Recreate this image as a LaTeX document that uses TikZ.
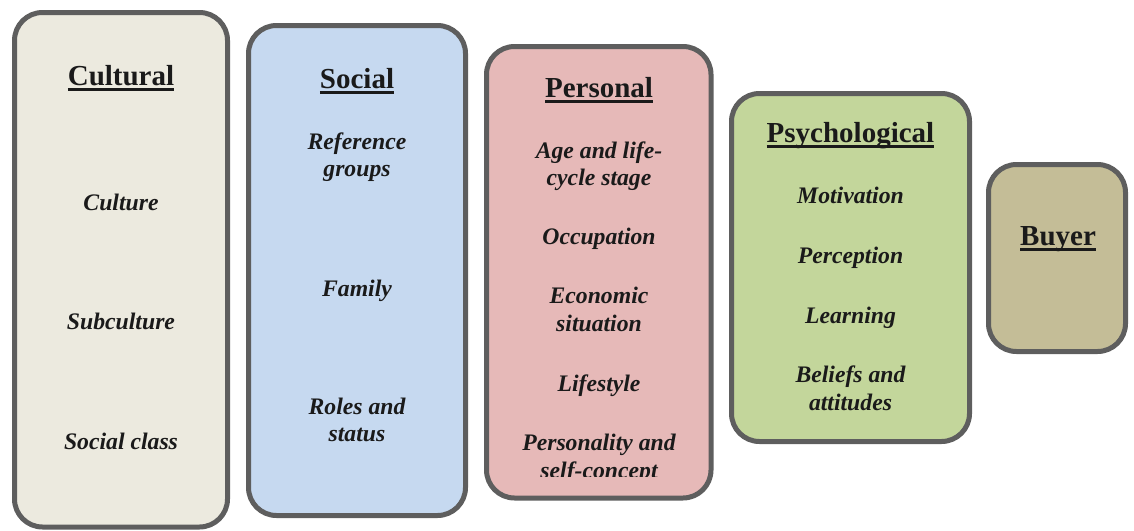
\documentclass[tikz,border=0pt]{standalone}
\usepackage{fontspec}
\setmainfont{Liberation Serif}
\newcommand\myul[1]{\setbox0=\hbox{#1}\rlap{\rule[-5.7pt]{\wd0}{2.7pt}}\box0}
\definecolor{bordergray}{HTML}{5E5E5E}
\definecolor{txt}{HTML}{1A1A1A}
\definecolor{cultfill}{HTML}{ECEADF}
\definecolor{socfill}{HTML}{C6D9F0}
\definecolor{persfill}{HTML}{E6B9B8}
\definecolor{psyfill}{HTML}{C3D69B}
\definecolor{buyfill}{HTML}{C4BD97}
\tikzset{
  panel/.style={draw=bordergray, line width=5pt, rounded corners=28pt, inner sep=0pt, rectangle},
  titletext/.style={anchor=base, inner sep=0pt, text=txt, font=\fontsize{29}{34}\selectfont\bfseries},
  itemtext/.style={anchor=base, inner sep=0pt, text=txt, font=\fontsize{23.7}{28}\selectfont\bfseries\itshape},
}
\begin{document}
\begin{tikzpicture}[x=1pt,y=-1pt]
\useasboundingbox (0,0) rectangle (1134,530);
% panels
\node[panel, fill=cultfill, minimum width=213pt, minimum height=514.5pt] (cultural) at (121,269.75) {};
\node[panel, fill=socfill, minimum width=217pt, minimum height=490pt] (social) at (357,270.5) {};
\node[panel, fill=persfill, minimum width=224.5pt, minimum height=451.5pt] (personal) at (598.75,272.25) {};
\node[panel, fill=psyfill, minimum width=238pt, minimum height=348pt] (psych) at (850.5,267.5) {};
\node[panel, fill=buyfill, minimum width=137pt, minimum height=187pt] (buyer) at (1057,258) {};
% Cultural
\node[titletext] (tcult) at (121,85) {\myul{Cultural}};
\node[itemtext] (culture) at (121,210) {Culture};
\node[itemtext] (subculture) at (121,329) {Subculture};
\node[itemtext] (socclass) at (121,449) {Social class};
% Social
\node[titletext] (tsoc) at (357,88) {\myul{Social}};
\node[itemtext] (ref1) at (357,149) {Reference};
\node[itemtext] (ref2) at (357,176) {groups};
\node[itemtext] (family) at (357,296) {Family};
\node[itemtext] (roles1) at (357,414) {Roles and};
\node[itemtext] (roles2) at (357,441) {status};
% Personal
\node[titletext] (tpers) at (599,97) {\myul{Personal}};
\node[itemtext] (age1) at (599,158) {Age and life-};
\node[itemtext] (age2) at (599,185) {cycle stage};
\node[itemtext] (occ) at (599,244) {Occupation};
\node[itemtext] (eco1) at (599,303) {Economic};
\node[itemtext] (eco2) at (599,331) {situation};
\node[itemtext] (life) at (599,391) {Lifestyle};
\node[itemtext] (pers1) at (599,450) {Personality and};
\begin{scope}
\clip (488,0) rectangle (709,476);
\node[itemtext] (pers2) at (599,478) {self-concept};
\end{scope}
% Psychological
\node[titletext] (tpsy) at (850.5,142) {\myul{Psychological}};
\node[itemtext] (mot) at (850.5,203) {Motivation};
\node[itemtext] (perc) at (850.5,263) {Perception};
\node[itemtext] (learn) at (850.5,323) {Learning};
\node[itemtext] (bel1) at (850.5,382) {Beliefs and};
\node[itemtext] (bel2) at (850.5,410) {attitudes};
% Buyer
\node[titletext] (tbuy) at (1058,245) {\myul{Buyer}};
\end{tikzpicture}
\end{document}
